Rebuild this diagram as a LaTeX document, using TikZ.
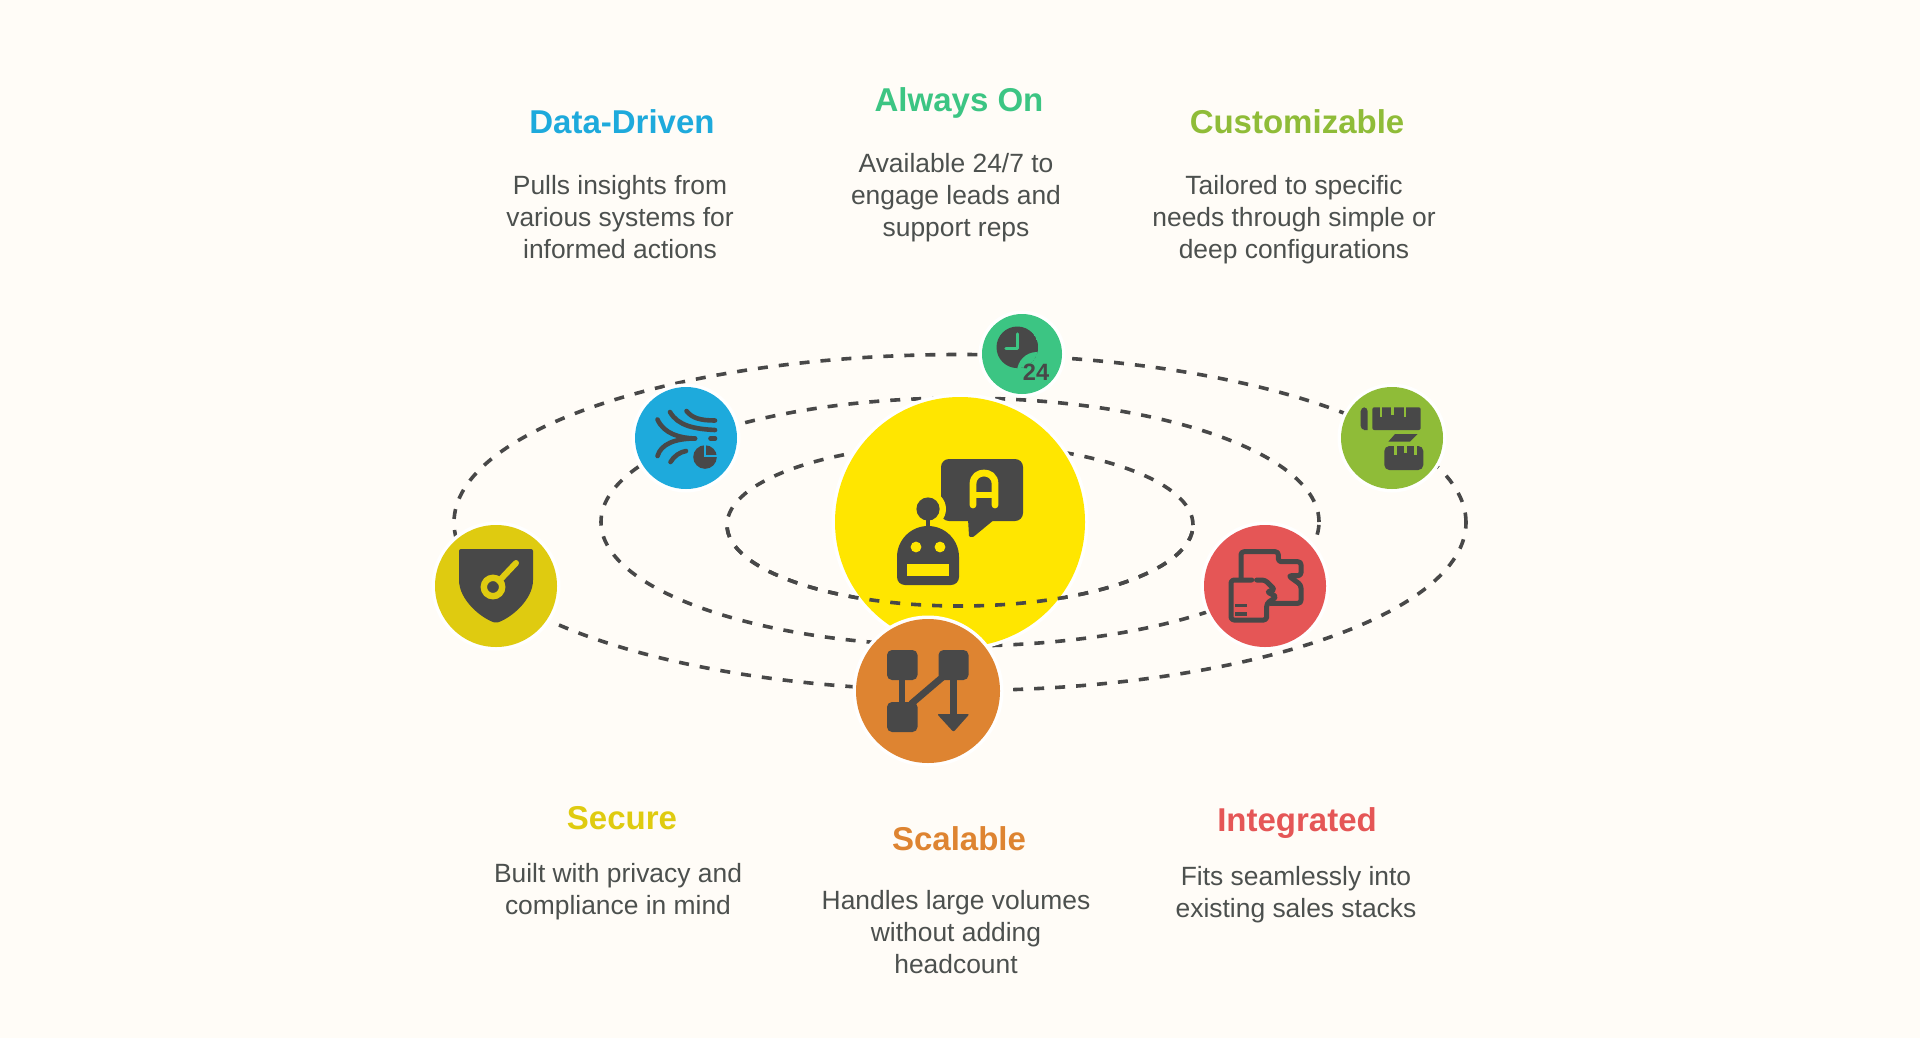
\documentclass[tikz,border=0pt]{standalone}
\usepackage{fontspec}
\setmainfont{Liberation Sans}
\usetikzlibrary{positioning, shapes.geometric}
\definecolor{paper}{HTML}{FFFCF7}
\definecolor{icondark}{HTML}{484848}
\definecolor{bodytext}{HTML}{4C504E}
\definecolor{sunyellow}{HTML}{FFE600}
\definecolor{skyblue}{HTML}{1EAADC}
\definecolor{mintgreen}{HTML}{3CC583}
\definecolor{leafgreen}{HTML}{8FBC38}
\definecolor{signalred}{HTML}{E55656}
\definecolor{burntorange}{HTML}{DE8431}
\definecolor{mustard}{HTML}{DFCB10}

\begin{document}
\begin{tikzpicture}[x=.5pt, y=-.5pt,
                orbit/.style = {
                    ellipse, draw=icondark,
                    line width=1.8pt, dash pattern=on 5pt off 5.5pt,
                    inner sep=0pt, outer sep=0pt
                },
                planet/.style = {
                    circle, preaction={draw=white, line width=3.5pt},
                    inner sep=0pt, outer sep=0pt
                },
                heading/.style = {
                    font=\fontsize{16.5}{19}\selectfont\bfseries,
                    anchor=base, inner sep=0pt,
                    text height=12pt, text depth=4pt
                },
                caption/.style = {
                    font=\fontsize{13.2}{16}\selectfont,
                    text=bodytext, align=center, inner sep=0pt
                },
                glyph/.style = {
                    draw=icondark, line width=2.3pt, fill=none,
                    line cap=round, line join=round
                },
                solid glyph/.style = {
                    fill=icondark, draw=none
                }
                ]

                \fill[paper] (0,0) rectangle (1920,1038);
                \useasboundingbox (0,0) rectangle (1920,1038);

                \node[orbit, minimum width=506pt, minimum height=168pt] (outer) at (960,522.5) {};
                \node[orbit, minimum width=359pt, minimum height=124pt] (middle) at (960,522) {};
                \node[orbit, minimum width=233pt, minimum height=81pt] (inner) at (960,525) {};

                \node[planet, fill=sunyellow, minimum size=125pt] (core) at (960,522) {};
                \begin{scope}
                    \clip (700,525) rectangle (1220,640);
                    \node[orbit, minimum width=233pt, minimum height=81pt] at (960,525) {};
                \end{scope}

                \node[planet, fill=skyblue, minimum size=51pt] (data) at (686,438) {};
                \node[planet, fill=mintgreen, minimum size=40pt] (always) at (1022,354) {};
                \node[planet, fill=leafgreen, minimum size=51pt] (custom) at (1392,438) {};
                \node[planet, fill=mustard, minimum size=61pt] (secure) at (496,586) {};
                \node[planet, fill=signalred, minimum size=61pt] (integ) at (1265,586) {};
                \node[planet, fill=burntorange, minimum size=72pt] (scale) at (928,691) {};

                % robot and speech bubble
                \fill[solid glyph, rounded corners=4pt] (941,459) -- (1023,459) -- (1023,521) -- (941,521) -- cycle;
                \fill[solid glyph] (968,519) -- (969,536) [rounded corners=1pt] -- (972,538) -- (995,519) -- cycle;
                \draw[sunyellow, line width=3.4pt, line cap=round] (973,505) -- (973,484) .. controls (973,476) and (979,473) .. (984,473) .. controls (989,473) and (995,476) .. (995,484) -- (995,505);
                \draw[sunyellow, line width=3.2pt] (973,495) -- (995,495);
                \fill[sunyellow] (928,509) circle (9pt);
                \fill[solid glyph] (928,509) circle (5.8pt);
                \draw[glyph, line width=2pt] (928,515) -- (928,530);
                \fill[solid glyph] (928,585) [rounded corners=4pt] -- (897,585) [rounded corners=15.5pt] -- (897,526) -- (959,526) [rounded corners=4pt] -- (959,585) -- cycle;
                \fill[sunyellow] (916,547) circle (2.7pt) (940,547) circle (2.7pt);
                \fill[sunyellow] (907,564) rectangle (949,576);

                % wind lines and pie
                \draw[glyph] (657.5,419.5) .. controls (664,434) and (680,438) .. (695,438.5);
                \draw[glyph] (657.5,456) .. controls (661,444) and (675,438.5) .. (695,438.5);
                \draw[glyph] (670,412) .. controls (678,426) and (695,429) .. (715,430);
                \draw[glyph] (686.5,411) .. controls (692,418) and (700,420.5) .. (715,420.5);
                \draw[glyph] (670.5,462) .. controls (674,456) and (680,452) .. (686,451);
                \draw[glyph] (710.5,438.5) -- (715,438.5);
                \fill[solid glyph] (705,457) circle (5.9pt);
                \draw[skyblue, line width=.9pt] (705,443) -- (705,456) -- (720,456);

                % clock
                \begin{scope}
                    \clip (1017.3,347.3) circle (10.4pt);
                    \fill[solid glyph] (1017.3,347.3) circle (10.4pt);
                    \fill[mintgreen] (1037,372) circle (10pt);
                \end{scope}
                \draw[mintgreen, line width=1.7pt, line cap=round, line join=round] (1017.3,334) -- (1017.3,348.5) -- (1006,348.5);
                \node[text=icondark, inner sep=0pt, font=\fontsize{11.8}{12}\selectfont\bfseries] (hours) at (1036,372) {24};

                % measuring tape
                \fill[solid glyph] (1367.7,407.3) -- (1367.7,430) -- (1364,430) [rounded corners=2pt] -- (1360.7,430) -- (1360.7,407.3) -- cycle;
                \fill[solid glyph, rounded corners=1pt] (1372.3,407.3) rectangle (1420.7,430);
                \draw[leafgreen, line width=1.4pt] (1381,406) -- (1381,417) (1392.7,406) -- (1392.7,415) (1405,406) -- (1405,417);
                \fill[solid glyph] (1395,434) -- (1417.7,434) -- (1410,441.7) -- (1388.3,441.7) -- cycle;
                \fill[solid glyph, rounded corners=2.5pt] (1384.3,446) rectangle (1423.3,470);
                \draw[leafgreen, line width=1.4pt] (1395.7,445) -- (1395.7,455) (1405.7,445) -- (1405.7,453) (1415.7,445) -- (1415.7,455);

                % key shield
                \fill[solid glyph, rounded corners=1pt] (459,549) -- (533,549) -- (533,578) .. controls (533,600) and (511,618) .. (496,623) .. controls (481,618) and (459,600) .. (459,578) -- cycle;
                \draw[mustard, line width=3pt, line cap=round] (499,581) -- (516,563);
                \draw[mustard, line width=3.2pt] (493,587) circle (4.6pt);

                % puzzle boxes
                \draw[glyph, line width=2.5pt, rounded corners=1.5pt] (1241,578) -- (1241,551.7) -- (1278.3,551.7) -- (1278.3,561.7) -- (1301,561.7) -- (1301,575.7) -- (1288.3,575.7) -- (1301,585) -- (1301,603.3) -- (1270,603.3);
                \draw[glyph, line width=2.5pt, rounded corners=1.5pt] (1251.7,580) -- (1231,580) -- (1231,620) -- (1266.7,620) -- (1266.7,603.3) -- (1276.7,596.7) -- (1266.7,591.7) -- (1275,590) -- (1265,580) -- (1256.7,580);
                \draw[icondark, line width=1.7pt] (1235,605.7) -- (1246.7,605.7) (1235,614) -- (1246.7,614);

                % flow chart
                \fill[solid glyph, rounded corners=2.5pt] (887,650) rectangle (917.5,680);
                \fill[solid glyph, rounded corners=2.5pt] (938.5,650) rectangle (968.5,680);
                \fill[solid glyph, rounded corners=2.5pt] (887,702) rectangle (917.5,732);
                \draw[glyph, line width=3.4pt, line cap=butt] (902,675) -- (902,707);
                \draw[glyph, line width=3.4pt, line cap=butt] (911,704) -- (945,675);
                \draw[glyph, line width=3.4pt, line cap=butt] (953.5,675) -- (953.5,716);
                \fill[solid glyph, rounded corners=1pt] (937,714) -- (969.5,714) -- (953.5,732) -- cycle;

                \node[heading, text=skyblue] (datahead) at (622,133.3) {Data-Driven};
                \node[caption, below=16.5pt of datahead, xshift=-1pt] (datatext) {Pulls insights from\\various systems for\\informed actions};
                \node[heading, text=mintgreen] (alwayshead) at (959,112) {Always On};
                \node[caption, below=16.3pt of alwayshead, xshift=-1.5pt] (alwaystext) {Available 24/7 to\\engage leads and\\support reps};
                \node[heading, text=leafgreen] (customhead) at (1297,133.3) {Customizable};
                \node[caption, below=16.5pt of customhead, xshift=-1.5pt] (customtext) {Tailored to specific\\needs through simple or\\deep configurations};
                \node[heading, text=mustard] (securehead) at (622,829) {Secure};
                \node[caption, below=13pt of securehead, xshift=-2pt] (securetext) {Built with privacy and\\compliance in mind};
                \node[heading, text=burntorange] (scalehead) at (959,850) {Scalable};
                \node[caption, below=16pt of scalehead, xshift=-1.5pt] (scaletext) {Handles large volumes\\without adding\\headcount};
                \node[heading, text=signalred] (integhead) at (1297,831.7) {Integrated};
                \node[caption, below=13pt of integhead, xshift=-.5pt] (integtext) {Fits seamlessly into\\existing sales stacks};
            \end{tikzpicture}
\end{document}
